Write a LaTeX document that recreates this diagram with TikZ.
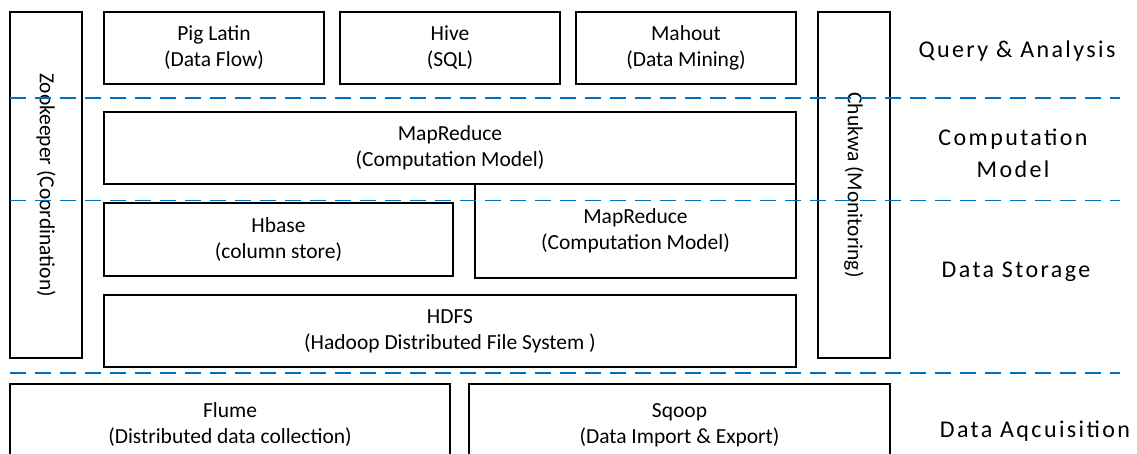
\documentclass[tikz,border=0pt]{standalone}
\usepackage{fontspec}
\setmainfont{Carlito}
\newfontfamily\layerfont[LetterSpace=10]{Carlito}
\definecolor{layerblue}{RGB}{0,112,192}
\begin{document}
\begin{tikzpicture}[x=1pt, y=-1pt,
  box/.style={draw, line width=1.4pt, inner sep=0pt, outer sep=0pt,
    align=center, font=\fontsize{21.5}{26}\selectfont},
  layerline/.style={draw=layerblue, line width=1.8pt, dash pattern=on 16pt off 9pt},
  layer/.style={align=center, font=\layerfont\fontsize{24}{32}\selectfont}]
\useasboundingbox (0,0) rectangle (1137,453);

% side services spanning the whole stack
\node[box, rotate=-90, minimum width=346pt, minimum height=72pt] (zoo) at (46,185) {Zookeeper (Coordination)};
\node[box, rotate=-90, minimum width=346pt, minimum height=72pt] (chukwa) at (854,185) {Chukwa (Monitoring)};

% query and analysis
\node[box, minimum width=220pt, minimum height=72pt] (pig) at (214,48) {Pig Latin\\(Data Flow)};
\node[box, minimum width=220pt, minimum height=72pt] (hive) at (450,48) {Hive\\(SQL)};
\node[box, minimum width=220pt, minimum height=72pt] (mahout) at (686,48) {Mahout\\(Data Mining)};

% computation model
\node[box, minimum width=692pt, minimum height=72pt] (mr1) at (450,148) {MapReduce\\(Computation Model)};

% data storage
\node[box, minimum width=349pt, minimum height=73pt] (hbase) at (278.5,239.5) {Hbase\\(column store)};
\node[box, minimum width=321pt, minimum height=94pt] (mr2) at (635.5,231)
  {\raisebox{-4pt}{\begin{tabular}{@{}c@{}}MapReduce\\(Computation Model)\end{tabular}}};
\node[box, minimum width=692pt, minimum height=72pt] (hdfs) at (450,331) {HDFS\\(Hadoop Distributed File System )};

% data acquisition
\node[box, minimum width=440pt, minimum height=82pt] (flume) at (230,425) {Flume\\(Distributed data collection)};
\node[box, minimum width=421pt, minimum height=82pt] (sqoop) at (679.5,425) {Sqoop\\(Data Import \& Export)};

% layer separators
\coordinate (s1a) at (10,98);    \coordinate (s1b) at (1120,98);
\coordinate (s2a) at (10,200.5); \coordinate (s2b) at (1120,200.5);
\coordinate (s3a) at (10,373);   \coordinate (s3b) at (1120,373);
\draw[layerline] (s1a) -- (s1b);
\draw[layerline] (s2a) -- (s2b);
\draw[layerline] (s3a) -- (s3b);

% layer names
\node[layer, anchor=base] (lq) at (1017,57) {Query \& Analysis};
\node[layer] (lc) at (1013,153) {Computation\\Model};
\node[layer, anchor=base] (ls) at (1016,277) {Data Storage};
\node[layer, anchor=base] (la) at (1035,437) {Data Aqcuisition};
\end{tikzpicture}
\end{document}
